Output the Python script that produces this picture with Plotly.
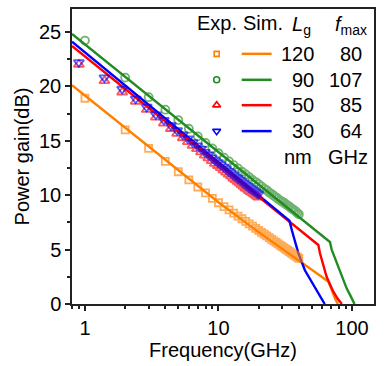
import plotly.graph_objects as go

# ---- Experimental data ----
orange_exp_f = [1, 2, 3, 4, 5, 6, 7, 8, 9, 10, 11, 12, 13, 14, 15, 16, 17, 18, 19, 20,
                21, 22, 23, 24, 25, 26, 27, 28, 29, 30, 31, 32, 33, 34, 35, 36, 37, 38, 39, 40]
orange_exp_g = [18.9, 16.0, 14.3, 13.1, 12.15, 11.4, 10.75, 10.2, 9.7, 9.3, 8.95, 8.65, 8.35, 8.08,
                7.83, 7.59, 7.36, 7.15, 6.95, 6.76, 6.58, 6.41, 6.25, 6.09, 5.94, 5.79, 5.66, 5.52,
                5.39, 5.27, 5.15, 5.03, 4.92, 4.81, 4.70, 4.60, 4.49, 4.40, 4.30, 4.20]

green_exp_f = [1, 2, 3, 4, 5, 6, 7, 8, 9, 10, 11, 12, 13, 14, 15, 16, 17, 18, 19, 20,
               21, 22, 23, 24, 25, 26, 27, 28, 29, 30, 31, 32, 33, 34, 35, 36, 37, 38, 39, 40]
green_exp_g = [24.2, 20.8, 19.0, 17.85, 16.9, 16.1, 15.4, 14.8, 14.3, 13.85, 13.45, 13.1, 12.75,
               12.45, 12.15, 11.9, 11.65, 11.4, 11.2, 11.0, 10.8, 10.6, 10.45, 10.25, 10.1, 9.95,
               9.8, 9.65, 9.5, 9.4, 9.3, 9.15, 9.05, 8.95, 8.8, 8.7, 8.6, 8.5, 8.35, 8.25]

rb_exp_f = [0.9, 1.4, 1.9, 2.4, 2.9, 3.4, 3.9, 4.4, 4.9, 5.4, 5.9, 6.4, 6.9, 7.4, 7.9, 8.4, 8.9,
            9.4, 9.9, 10.4, 10.9, 11.4, 11.9, 12.4, 12.9, 13.4, 13.9, 14.4, 14.9, 15.4, 15.9,
            16.4, 16.9, 17.4, 17.9, 18.4, 18.9, 19.4, 19.9]
red_exp_g = [22.0, 20.5, 19.45, 18.6, 17.85, 17.15, 16.6, 16.1, 15.65, 15.25, 14.9, 14.55, 14.25,
             13.95, 13.65, 13.4, 13.15, 12.9, 12.7, 12.5, 12.3, 12.1, 11.9, 11.75, 11.55, 11.4,
             11.25, 11.1, 10.95, 10.8, 10.65, 10.55, 10.4, 10.3, 10.2, 10.1, 10.0, 9.9, 9.8]
blue_exp_g = [22.2, 20.8, 19.75, 18.85, 18.1, 17.4, 16.9, 16.4, 15.95, 15.55, 15.2, 14.85, 14.55,
              14.25, 13.95, 13.7, 13.45, 13.2, 13.0, 12.8, 12.6, 12.4, 12.2, 12.05, 11.85, 11.7,
              11.55, 11.4, 11.25, 11.1, 10.95, 10.85, 10.7, 10.6, 10.5, 10.4, 10.3, 10.2, 10.1]

# ---- Simulated data ----
orange_sim_f = [0.8, 2, 5, 10, 20, 30, 40, 50, 60, 66.5, 70.5, 74.6, 78.5]
orange_sim_g = [20.1, 16.2, 12.35, 9.35, 6.6, 5.1, 4.0, 3.15, 2.45, 2.05, 1.3, 0.5, 0.0]
green_sim_f = [0.8, 10, 40, 68.4, 70.5, 72.5, 81.3, 91.2, 98, 104.5]
green_sim_g = [24.8, 14.0, 8.0, 5.7, 5.0, 4.6, 2.97, 1.44, 0.7, 0.0]
red_sim_f = [0.8, 10, 34, 56, 57.6, 59.3, 64.6, 72.5, 78, 84]
red_sim_g = [23.7, 12.85, 7.6, 5.42, 4.66, 4.04, 2.5, 1.13, 0.5, 0.0]
blue_sim_f = [0.8, 10, 34, 35.5, 37.5, 39.6, 44.4, 52.7, 62.5]
blue_sim_g = [24.1, 13.0, 7.66, 6.75, 5.7, 4.7, 3.1, 1.55, 0.0]

# ---- Legend table ----
lg_values = ["120", "90", "50", "30"]
fmax_values = ["80", "107", "85", "64"]

C_OR, C_GR, C_RD, C_BL = "#FF8000", "#228B22", "#FF0000", "#0000FF"
FONT = "Liberation Sans, Arial, sans-serif"
FS = 20

fig = go.Figure()

series = [
    (orange_sim_f, orange_sim_g, orange_exp_f, orange_exp_g, C_OR, "square-open", 7),
    (green_sim_f, green_sim_g, green_exp_f, green_exp_g, C_GR, "circle-open", 8),
    (red_sim_f, red_sim_g, rb_exp_f, red_exp_g, C_RD, "triangle-up-open", 9),
    (blue_sim_f, blue_sim_g, rb_exp_f, blue_exp_g, C_BL, "triangle-down-open", 9),
]
for sf, sg, ef, eg, c, sym, sz in series:
    fig.add_trace(go.Scatter(x=sf, y=sg, mode="lines", line=dict(color=c, width=2.4),
                             showlegend=False, cliponaxis=True, hoverinfo="skip"))
for sf, sg, ef, eg, c, sym, sz in series:
    fig.add_trace(go.Scatter(x=ef, y=eg, mode="markers", opacity=0.65,
                             marker=dict(symbol=sym, size=sz, color=c, line=dict(color=c, width=1.8)),
                             showlegend=False, hoverinfo="skip"))

# legend symbols on overlay axes (0..1 over the plot area)
row_y = [0.848, 0.760, 0.674, 0.586]
for (sf, sg, ef, eg, c, sym, sz), ry in zip(series, row_y):
    fig.add_trace(go.Scatter(x=[0.479], y=[ry], xaxis="x2", yaxis="y2", mode="markers",
                             marker=dict(symbol=sym, size=sz - 2, color=c, line=dict(color=c, width=1.6)),
                             showlegend=False, cliponaxis=False, hoverinfo="skip"))
    fig.add_trace(go.Scatter(x=[0.562, 0.661], y=[ry, ry], xaxis="x2", yaxis="y2", mode="lines",
                             line=dict(color=c, width=2.5), showlegend=False, cliponaxis=False,
                             hoverinfo="skip"))

ann = []
def txt(x, y, s, xa="center"):
    ann.append(dict(x=x, y=y, xref="paper", yref="paper", text=s, showarrow=False,
                    xanchor=xa, yanchor="middle", font=dict(family=FONT, size=FS, color="black")))

txt(0.479, 0.952, "Exp.")
txt(0.632, 0.952, "Sim.")
txt(0.797, 0.945, "<i>L</i><sub>g</sub>", "right")
txt(0.982, 0.945, "<i>f</i><sub>max</sub>", "right")
for lg, fm, ry in zip(lg_values, fmax_values, row_y):
    txt(0.808, ry, lg, "right")
    txt(0.967, ry, fm, "right")
txt(0.801, 0.500, "nm", "right")
txt(0.987, 0.500, "GHz", "right")

axis_common = dict(showline=True, linecolor="#222", linewidth=1.5, mirror=True,
                   ticks="outside", tickcolor="#222", tickwidth=1.5, ticklen=5,
                   showgrid=False, zeroline=False, automargin=False,
                   tickfont=dict(family=FONT, size=FS, color="black"))

fig.update_layout(
    width=386, height=366,
    margin=dict(l=72, r=12, t=9, b=62),
    paper_bgcolor="white", plot_bgcolor="white",
    annotations=ann,
    hovermode=False,
    xaxis=dict(type="log", range=[-0.097, 2.165], dtick=1,
               minor=dict(ticks="outside", ticklen=3, tickcolor="#222", dtick="D1", showgrid=False),
               title=dict(text="Frequency(GHz)", font=dict(family=FONT, size=FS, color="black"), standoff=0),
               **axis_common),
    yaxis=dict(range=[0, 27.1], dtick=5, tick0=0,
               minor=dict(ticks="outside", ticklen=3, tickcolor="#222", dtick=2.5, showgrid=False),
               title=dict(text="Power gain(dB)", font=dict(family=FONT, size=FS, color="black"), standoff=4),
               **axis_common),
    xaxis2=dict(overlaying="x", range=[0, 1], visible=False),
    yaxis2=dict(overlaying="y", range=[0, 1], visible=False),
)

fig.write_html("out.html", config={"displayModeBar": False},
               post_script="document.body.style.margin='0';document.body.style.overflow='hidden';")
